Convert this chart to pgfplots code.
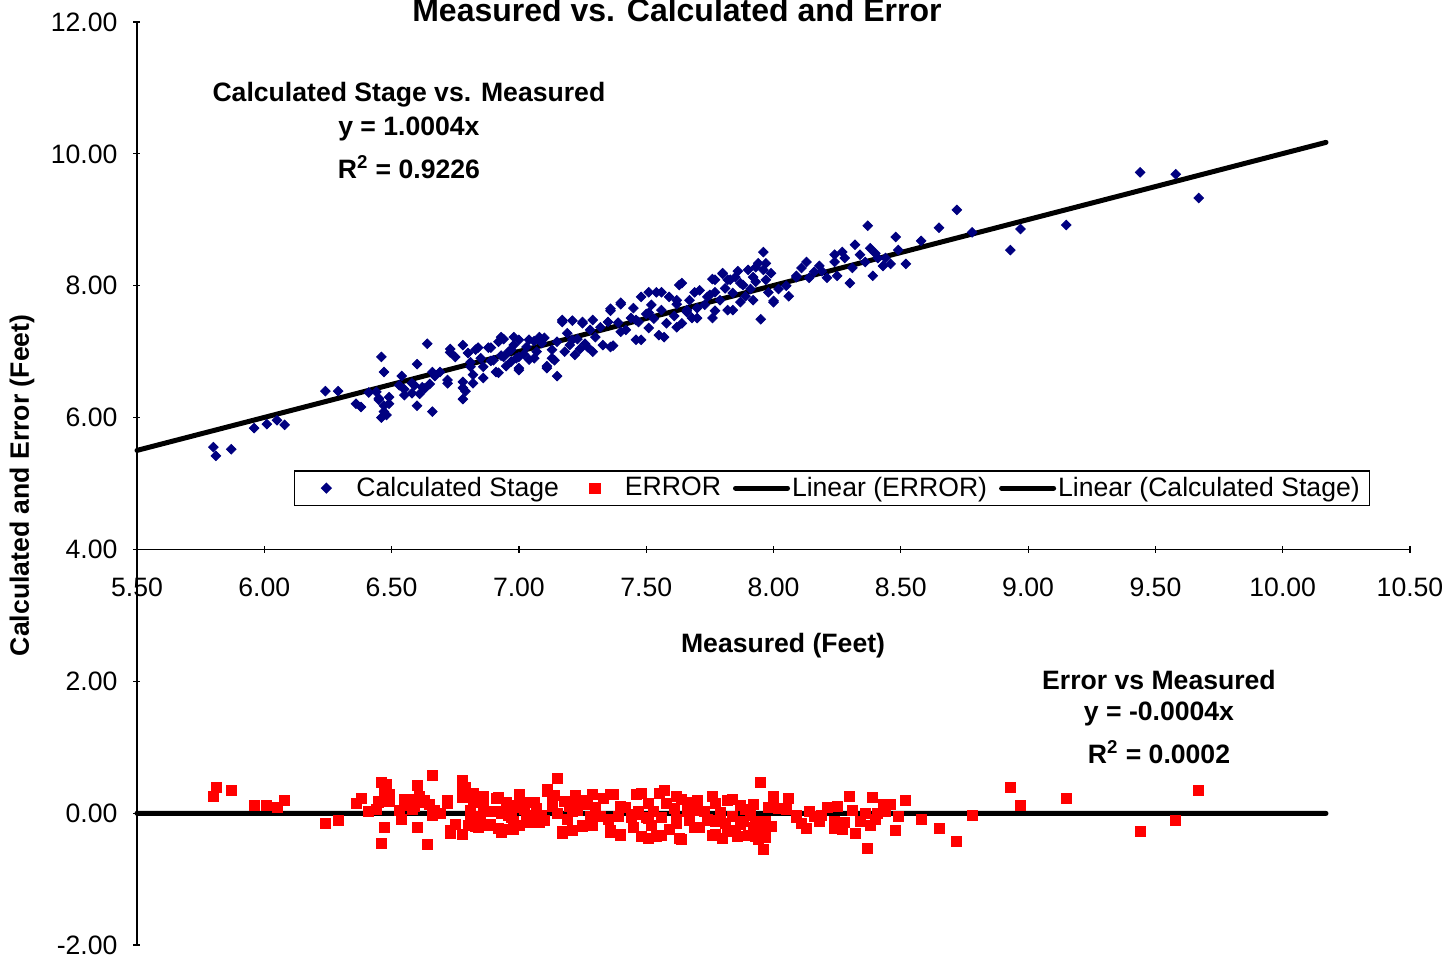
\documentclass[border=0pt]{standalone}
\usepackage{fontspec}
\setmainfont{Liberation Sans}
\usepackage{pgfplots}
\usepackage{pgfplotstable}
\pgfplotsset{compat=1.18}
\definecolor{stage}{RGB}{0,0,128}
\definecolor{errred}{RGB}{255,0,0}

% measured, calculated stage, error (measured - calculated)
\pgfplotstableread{
x c e
5.80 5.55 0.25
5.81 5.42 0.39
5.87 5.52 0.35
5.96 5.84 0.12
6.01 5.90 0.11
6.05 5.96 0.09
6.08 5.89 0.19
6.24 6.40 -0.16
6.29 6.40 -0.11
6.36 6.21 0.15
6.38 6.16 0.22
6.41 6.38 0.03
6.45 6.29 0.16
6.46 6.92 -0.46
6.47 6.69 -0.22
6.47 6.09 0.38
6.46 6.00 0.46
6.49 6.21 0.28
6.49 6.31 0.18
6.53 6.49 0.04
6.55 6.34 0.21
6.58 6.52 0.06
6.60 6.18 0.42
6.60 6.81 -0.21
6.61 6.36 0.25
6.63 6.44 0.19
6.64 7.12 -0.48
6.65 6.51 0.14
6.66 6.09 0.57
6.67 6.63 0.04
6.69 6.69 0.00
6.72 6.52 0.20
6.73 6.99 -0.26
6.75 6.92 -0.17
6.78 6.54 0.24
6.78 7.10 -0.32
6.78 6.28 0.50
6.79 6.40 0.39
6.81 6.84 -0.03
6.82 6.65 0.17
6.83 7.03 -0.20
6.85 6.90 -0.05
6.86 6.77 0.09
6.88 7.06 -0.18
6.89 6.86 0.03
6.91 6.69 0.22
6.92 7.15 -0.23
6.93 6.94 -0.01
6.94 7.19 -0.25
6.95 6.78 0.17
6.96 7.00 -0.04
6.97 6.85 0.12
6.98 7.10 -0.12
6.99 6.90 0.09
7.00 7.18 -0.18
7.00 6.75 0.25
7.02 6.96 0.06
7.03 7.07 -0.04
7.04 6.88 0.16
7.06 7.16 -0.10
7.07 7.00 0.07
7.09 7.13 -0.04
7.10 7.21 -0.11
7.11 6.78 0.33
7.13 7.03 0.10
7.15 6.63 0.52
7.15 7.15 0.00
7.17 7.45 -0.28
7.18 7.00 0.18
7.19 7.28 -0.09
7.20 7.10 0.10
7.21 7.47 -0.26
7.22 6.95 0.27
7.23 7.19 0.04
7.24 7.04 0.20
7.25 7.45 -0.20
7.26 7.12 0.14
7.28 7.33 -0.05
7.29 7.00 0.29
7.30 7.22 0.08
7.32 7.37 -0.05
7.33 7.10 0.23
7.36 7.62 -0.26
7.37 7.09 0.28
7.39 7.44 -0.05
7.40 7.72 -0.32
7.42 7.33 0.09
7.44 7.51 -0.07
7.45 7.66 -0.21
7.46 7.18 0.28
7.47 7.45 0.02
7.48 7.83 -0.35
7.50 7.57 -0.07
7.51 7.36 0.15
7.52 7.71 -0.19
7.53 7.50 0.03
7.54 7.90 -0.36
7.55 7.25 0.30
7.56 7.63 -0.07
7.58 7.43 0.15
7.59 7.83 -0.24
7.61 7.54 0.07
7.62 7.72 -0.10
7.63 8.01 -0.38
7.64 7.43 0.21
7.66 7.60 0.06
7.67 7.78 -0.11
7.68 7.51 0.17
7.69 7.90 -0.21
7.70 7.66 0.04
7.71 7.93 -0.22
7.73 7.71 0.02
7.74 7.83 -0.09
7.76 7.51 0.25
7.77 7.90 -0.13
7.77 8.09 -0.32
7.79 7.78 0.01
7.80 8.18 -0.38
7.81 7.96 -0.15
7.82 7.63 0.19
7.83 8.09 -0.26
7.84 7.89 -0.05
7.85 8.13 -0.28
7.87 7.75 0.12
7.88 8.01 -0.13
7.89 7.84 0.05
7.90 8.24 -0.34
7.91 7.95 -0.04
7.92 7.78 0.14
7.93 8.06 -0.13
7.94 8.34 -0.40
7.95 7.49 0.46
7.96 8.24 -0.28
7.96 8.51 -0.55
7.97 8.09 -0.12
7.98 7.90 0.08
8.00 7.77 0.23
8.02 7.95 0.07
8.06 7.84 0.22
8.09 8.15 -0.06
8.11 8.27 -0.16
8.13 8.36 -0.23
8.14 8.12 0.02
8.16 8.21 -0.05
8.18 8.30 -0.12
8.21 8.12 0.09
8.24 8.36 -0.12
8.25 8.15 0.10
8.28 8.42 -0.14
8.30 8.04 0.26
8.31 8.27 0.04
8.32 8.62 -0.30
8.34 8.47 -0.13
8.36 8.36 0.00
8.37 8.91 -0.54
8.38 8.57 -0.19
8.39 8.15 0.24
8.40 8.49 -0.09
8.41 8.42 -0.01
8.43 8.30 0.13
8.44 8.42 0.02
8.46 8.33 0.13
8.48 8.74 -0.26
8.49 8.54 -0.05
8.52 8.33 0.19
8.58 8.68 -0.10
8.65 8.88 -0.23
8.72 9.15 -0.43
8.78 8.81 -0.03
8.93 8.54 0.39
8.97 8.86 0.11
9.15 8.92 0.23
9.44 9.72 -0.28
9.58 9.69 -0.11
9.67 9.33 0.34
6.44 6.39 0.05
6.45 6.27 0.18
6.47 6.18 0.29
6.48 6.04 0.44
6.54 6.63 -0.09
6.55 6.43 0.12
6.59 6.49 0.10
6.58 6.37 0.21
6.62 6.46 0.16
6.66 6.69 -0.03
6.72 6.57 0.15
6.73 7.04 -0.31
6.78 6.45 0.33
6.82 6.52 0.30
6.80 6.98 -0.18
6.81 6.77 0.04
6.84 7.06 -0.22
6.86 6.60 0.26
6.89 7.06 -0.17
6.90 6.87 0.03
6.93 7.22 -0.29
6.92 6.68 0.24
6.94 6.92 0.02
6.98 7.22 -0.24
6.97 7.03 -0.06
7.00 6.72 0.28
7.00 6.92 0.08
7.04 7.18 -0.14
7.06 6.90 0.16
7.08 7.22 -0.14
7.11 6.75 0.36
7.14 6.87 0.27
7.97 8.34 -0.37
7.93 8.28 -0.35
7.86 8.22 -0.36
7.80 8.19 -0.39
7.76 8.10 -0.34
7.82 8.09 -0.27
7.87 8.04 -0.17
7.92 8.13 -0.21
7.99 8.19 -0.20
8.09 8.13 -0.04
8.00 7.75 0.25
7.84 7.63 0.21
7.77 7.62 0.15
7.64 8.04 -0.40
7.75 7.86 -0.11
7.62 7.78 -0.16
7.56 7.90 -0.34
7.51 7.90 -0.39
7.40 7.74 -0.34
7.36 7.65 -0.29
7.35 7.45 -0.10
7.40 7.30 0.10
7.36 7.07 0.29
7.46 7.48 -0.02
7.51 7.59 -0.08
7.57 7.22 0.35
7.62 7.37 0.25
7.66 7.63 0.03
7.70 7.51 0.19
7.48 7.18 0.30
7.29 7.48 -0.19
7.25 7.43 -0.18
7.17 7.48 -0.31
7.21 7.18 0.03
7.27 7.07 0.20
7.13 6.90 0.23
7.09 7.18 -0.09
8.27 8.51 -0.24
8.24 8.47 -0.23
8.19 8.22 -0.03
8.05 8.00 0.05
}\stagedata

\newcommand\lbl{\fontsize{13.3}{16}\selectfont}
\begin{document}
\begin{tikzpicture}[font=\lbl]
\pgfplotsset{
  every axis/.append style={
    scale only axis, width=636.5pt,
    xmin=5.5, xmax=10.5,
    tick align=outside, major tick length=3.5pt,
    tick style={black, line width=0.6pt},
  },
  markimg/.style={legend image code/.code={
    \path[draw=none, fill=none] (0pt,-1pt) rectangle (26pt,1pt);
    \path[##1, draw=none] plot[only marks] coordinates {(12pt,0pt)};}},
  lineimg/.style={legend image code/.code={
    \draw[black, line width=2.5pt] (0pt,0pt) -- (26pt,0pt);}},
}
% horizontal axis, crossing at y = 4
\begin{axis}[
  height=263.7pt, at={(0,197.8pt)},
  ymin=4, ymax=12,
  axis x line=bottom, axis y line=none,
  axis line style={-, black, line width=0.6pt},
  xtick={5.5,6,6.5,7,7.5,8,8.5,9,9.5,10,10.5},
  xticklabel style={yshift=-9pt, /pgf/number format/.cd, fixed, fixed zerofill, precision=2, assume math mode=true},
  xlabel={\bfseries Measured (Feet)},
  xlabel style={at={(axis description cs:0.5075,-0.183)}, anchor=center},
]
\end{axis}

\begin{axis}[
  height=461.5pt,
  ymin=-2, ymax=12,
  axis x line=none, axis y line=left,
  axis line style={-, black, line width=0.6pt},
  ytick={-2,0,2,4,6,8,10,12},
  yticklabel style={xshift=-4.5pt, /pgf/number format/.cd, fixed, fixed zerofill, precision=2, assume math mode=true},
  clip=false,
  legend columns=4,
  legend style={at={(0.546,0.495)}, anchor=center, draw=black, line width=0.6pt,
    font=\lbl, inner xsep=4pt, inner ysep=2pt, nodes={inner sep=1pt},
    /tikz/every even column/.append style={column sep=5pt}},
]
\addplot[only marks, mark=square*, mark size=1.7pt, color=stage,
  mark options={rotate=45}, markimg] table[x=x, y=c] {\stagedata};
\addlegendentry{Calculated Stage}
\addplot[only marks, mark=square*, mark size=2.5pt, color=errred, markimg]
  table[x=x, y=e] {\stagedata};
\addlegendentry{ERROR}
\addplot[black, line width=2.5pt, line cap=round, lineimg]
  coordinates {(5.5,-0.0022) (10.17,-0.0041)};
\addlegendentry{Linear (ERROR)}
\addplot[black, line width=2.5pt, line cap=round, lineimg]
  coordinates {(5.5,5.5022) (10.17,10.1741)};
\addlegendentry{Linear (Calculated Stage)}

\node[font=\lbl\bfseries] at (axis cs:6.568,10.893) {Calculated Stage vs. Measured};
\node[font=\lbl\bfseries] at (axis cs:6.568,10.377) {y = 1.0004x};
\node[font=\lbl\bfseries] at (axis cs:6.568,9.80) {R\textsuperscript{2} = 0.9226};
\node[font=\lbl\bfseries] at (axis cs:9.514,2.020) {Error vs Measured};
\node[font=\lbl\bfseries] at (axis cs:9.514,1.504) {y = -0.0004x};
\node[font=\lbl\bfseries] at (axis cs:9.514,0.928) {R\textsuperscript{2} = 0.0002};
\node[font=\fontsize{16}{19}\selectfont\bfseries, anchor=base] at (axis cs:7.621,12.015) {Measured vs. Calculated and Error};
\node[font=\lbl\bfseries, rotate=90] at (axis description cs:-0.0903,0.498) {Calculated and Error (Feet)};
\end{axis}
\pgfresetboundingbox
\path[use as bounding box] (-68.5pt,-7.5pt) rectangle (656.5pt,472.5pt);
\end{tikzpicture}
\end{document}
